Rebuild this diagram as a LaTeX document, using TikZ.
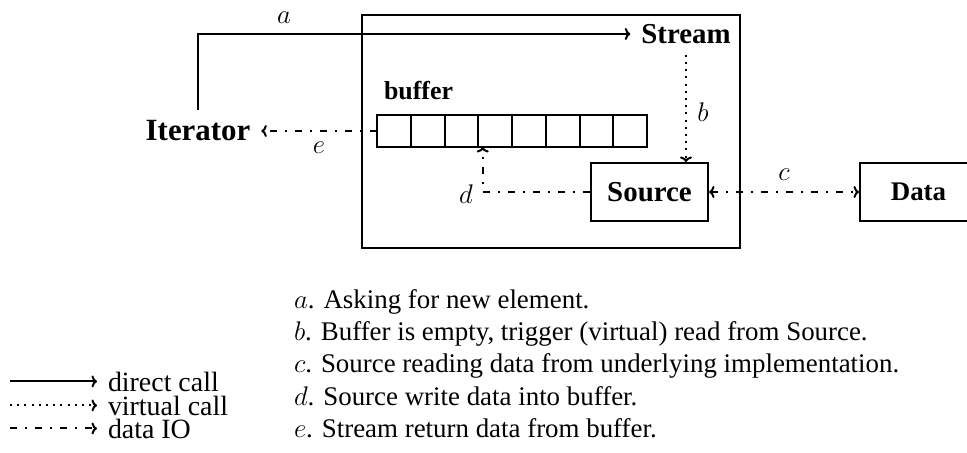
\RequirePackage{fix-cm}
\documentclass[tikz,border=0pt]{standalone}
\usepackage{fontspec}
\setmainfont{Liberation Serif}
\usetikzlibrary{arrows.meta}

\begin{document}
\begin{tikzpicture}[x=1bp, y=-1bp, line width=2bp,
  >={To[length=5.5bp,width=12bp]},
  headfont/.style={font=\fontsize{29}{29}\selectfont\bfseries},
  bodytext/.style={font=\fontsize{27}{27}\selectfont, anchor=base west, inner sep=0pt},
  keytext/.style={font=\fontsize{28}{28}\selectfont, anchor=base west, inner sep=0pt},
  letter/.style={font=\fontsize{27}{27}\selectfont, inner sep=0pt},
  virtual/.style={dash pattern=on 2bp off 5.2bp},
  dataio/.style={dash pattern=on 7bp off 8bp on 2bp off 8bp},
  cellbox/.style={draw, minimum width=33.75bp, minimum height=32bp, inner sep=0pt, outer sep=0pt},
  unitbox/.style={draw, minimum width=117bp, minimum height=58bp, inner sep=0pt}]

\useasboundingbox (0,0) rectangle (967,453);

% the stream object and its parts
\node[draw, minimum width=378bp, minimum height=233bp, inner sep=0pt] (streambox) at (551,131.5) {};
\node[headfont, inner sep=10bp] (stream) at (686,34) {Stream};
\node[font=\fontsize{31}{31}\selectfont\bfseries, inner sep=10bp] (iter) at (198,131) {Iterator};

\foreach \i in {1,...,8}
  \node[cellbox] (cell\i) at ({377+33.75*(\i-0.5)},131) {};
\node[font=\fontsize{26}{26}\selectfont\bfseries, anchor=base west, inner sep=0pt] (buflabel) at (383,100) {buffer};

\node[unitbox, headfont] (source) at (649.5,192) {Source};
\node[unitbox, font=\fontsize{27}{27}\selectfont\bfseries] (data) at (918.5,192) {Data};

% calls and data flow
\draw[->] (iter.north) |- (stream.west);
\node[letter] (la) at (284,18) {$a$};

\draw[->, virtual] (stream.south) -- (stream.south |- source.north);
\node[letter] (lb) at (703,112) {$b$};

\draw[<->, dataio] (source.east) -- (data.west);
\node[letter] (lc) at (784,175) {$c$};

\coordinate (dtop) at ([xshift=4.5bp]cell4.south west);
\draw[->, dataio] (source.west) -| (dtop);
\node[letter] (ld) at (466,194) {$d$};

\draw[->, dataio] (cell1.west) -- (iter.east);
\node[letter] (le) at (319,148) {$e$};

% legend
\node[keytext] (tdirect) at (107,391) {direct call};
\node[keytext] (tvirtual) at (107,415) {virtual call};
\node[keytext] (tdata) at (107,438) {data IO};
\coordinate (k1) at (10,0);
\draw[->] (k1 |- tdirect.west) -- ([xshift=-10bp]tdirect.west);
\draw[->, virtual] (k1 |- tvirtual.west) -- ([xshift=-10bp]tvirtual.west);
\draw[->, dataio] (k1 |- tdata.west) -- ([xshift=-10bp]tdata.west);

% notes
\node[bodytext] (na) at (293,309) {$a$. Asking for new element.};
\node[bodytext] (nb) at (293,341) {$b$. Buffer is empty, trigger (virtual) read from Source.};
\node[bodytext] (nc) at (293,373) {$c$. Source reading data from underlying implementation.};
\node[bodytext] (nd) at (293,405) {$d$. Source write data into buffer.};
\node[bodytext] (ne) at (293,437) {$e$. Stream return data from buffer.};
\end{tikzpicture}
\end{document}
